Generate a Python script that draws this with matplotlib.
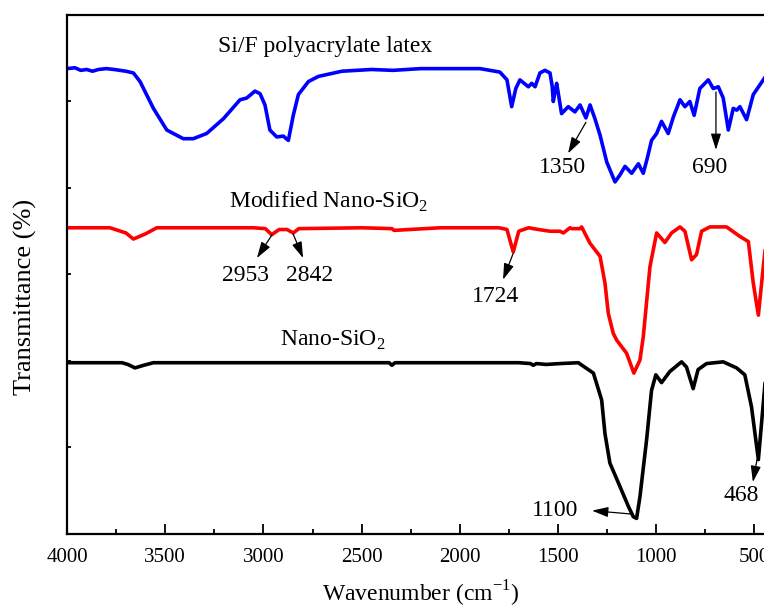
import numpy as np
import matplotlib
matplotlib.use('Agg')
import matplotlib.pyplot as plt

plt.rcParams['font.family'] = ['Liberation Serif', 'DejaVu Serif']
plt.rcParams['mathtext.fontset'] = 'custom'
plt.rcParams['mathtext.rm'] = 'Liberation Serif'

# Si/F polyacrylate latex (blue)
wn_latex = [4000, 3960, 3930, 3900, 3870, 3840, 3800, 3760, 3730, 3700, 3662, 3628, 3560,
            3492, 3408, 3357, 3289, 3204, 3119, 3085, 3043, 3017, 2992, 2967, 2932, 2899,
            2873, 2848, 2822, 2771, 2720, 2600, 2450, 2340, 2200, 2000, 1897, 1796, 1760,
            1736, 1715, 1694, 1651, 1634, 1617, 1592, 1567, 1541, 1530, 1524, 1515, 1507,
            1482, 1448, 1414, 1388, 1358, 1337, 1312, 1286, 1252, 1210, 1185, 1159, 1125,
            1091, 1066, 1045, 1024, 998, 973, 939, 913, 879, 854, 829, 807, 778, 735, 710,
            684, 659, 633, 608, 590, 574, 540, 506, 470, 440]
t_latex = [5.38, 5.39, 5.36, 5.37, 5.35, 5.37, 5.38, 5.37, 5.36, 5.35, 5.33, 5.23, 4.92,
           4.67, 4.57, 4.57, 4.63, 4.80, 5.02, 5.04, 5.12, 5.09, 4.96, 4.67, 4.59, 4.60,
           4.55, 4.84, 5.08, 5.23, 5.29, 5.35, 5.37, 5.36, 5.38, 5.38, 5.38, 5.34, 5.25,
           4.94, 5.15, 5.25, 5.17, 5.21, 5.17, 5.33, 5.36, 5.33, 5.18, 5.00, 5.12, 5.21,
           4.86, 4.94, 4.88, 4.96, 4.81, 4.96, 4.80, 4.61, 4.30, 4.07, 4.15, 4.25, 4.17,
           4.28, 4.17, 4.35, 4.55, 4.63, 4.77, 4.63, 4.82, 5.02, 4.94, 5.00, 4.84, 5.15,
           5.25, 5.15, 5.17, 5.04, 4.67, 4.92, 4.90, 4.94, 4.79, 5.08, 5.20, 5.30]

# Modified Nano-SiO2 (red)
wn_mod = [4000, 3781, 3700, 3662, 3600, 3543, 3300, 3050, 2990, 2958, 2920, 2880, 2848,
          2820, 2500, 2345, 2335, 2100, 1800, 1760, 1728, 1700, 1650, 1600, 1540, 1490,
          1473, 1439, 1431, 1388, 1380, 1337, 1303, 1286, 1261, 1244, 1219, 1201, 1151,
          1114, 1083, 1066, 1032, 998, 956, 922, 879, 854, 820, 795, 769, 727, 642, 574,
          531, 506, 480, 455, 440]
t_mod = [3.54, 3.54, 3.48, 3.41, 3.47, 3.54, 3.54, 3.54, 3.53, 3.46, 3.52, 3.52, 3.48,
         3.53, 3.54, 3.53, 3.51, 3.54, 3.54, 3.52, 3.26, 3.50, 3.54, 3.52, 3.50, 3.50,
         3.48, 3.54, 3.53, 3.53, 3.55, 3.36, 3.26, 3.21, 2.90, 2.55, 2.32, 2.24, 2.09,
         1.86, 2.01, 2.28, 3.09, 3.48, 3.37, 3.48, 3.55, 3.50, 3.17, 3.23, 3.50, 3.55,
         3.55, 3.44, 3.38, 2.90, 2.53, 3.09, 3.40]

# Nano-SiO2 (black)
wn_nano = [4000, 3720, 3690, 3654, 3610, 3560, 3200, 2800, 2360, 2346, 2330, 2000, 1700,
           1640, 1626, 1610, 1560, 1490, 1397, 1320, 1278, 1261, 1236, 1185, 1142, 1117,
           1100, 1083, 1049, 1024, 1002, 973, 930, 871, 846, 812, 787, 744, 659, 591,
           549, 515, 480, 455, 440]
t_nano = [1.98, 1.98, 1.96, 1.92, 1.95, 1.98, 1.98, 1.98, 1.98, 1.95, 1.98, 1.98, 1.98,
          1.97, 1.95, 1.97, 1.96, 1.97, 1.98, 1.86, 1.55, 1.16, 0.82, 0.55, 0.32, 0.20,
          0.18, 0.43, 1.09, 1.66, 1.84, 1.75, 1.88, 1.99, 1.93, 1.68, 1.90, 1.97, 1.99,
          1.92, 1.84, 1.47, 0.86, 1.51, 1.90]

fig = plt.figure(figsize=(7.64, 6.07), dpi=100)
ax = fig.add_axes([0.0877, 0.1203, 0.9255, 0.855])

ax.plot(wn_latex, t_latex, color='#0000ff', lw=2.6)
ax.plot(wn_mod, t_mod, color='#ff0000', lw=2.6)
ax.plot(wn_nano, t_nano, color='black', lw=2.6)

ax.set_xlim(4000, 400)
ax.set_ylim(0, 6)
ax.set_xticks([4000, 3500, 3000, 2500, 2000, 1500, 1000, 500])
ax.set_xticks(np.arange(3750, 400, -500), minor=True)
ax.set_yticks(range(7))
ax.set_yticklabels([])
ax.tick_params(axis='x', which='major', direction='in', length=7, width=1.3, labelsize=15, pad=10)
ax.tick_params(axis='x', which='minor', direction='in', length=3.6, width=1.3)
ax.tick_params(axis='y', direction='in', length=3, width=1.3)
for s in ax.spines.values():
    s.set_linewidth(1.6)

ax.set_xlabel(r'Wavenumber (cm$^{\mathregular{-1}}$)', fontsize=17)
ax.xaxis.set_label_coords(0.5, -0.086)
ax.set_ylabel('Transmittance (%)', fontsize=19, va='center')
ax.yaxis.set_label_coords(-0.059, 0.457)

# curve names
ax.text(2687, 5.63, 'Si/F polyacrylate latex', fontsize=17, ha='center', va='center')
ax.text(2666, 3.84, r'Modified Nano-SiO$_{\mathregular{2}}$', fontsize=17, ha='center', va='center')
ax.text(2646, 2.24, r'Nano-SiO$_{\mathregular{2}}$', fontsize=17, ha='center', va='center')

# peak annotations: (label, arrow tail, arrow head, text position)
arrows = [
    ('2953', (2956, 3.46), (3033, 3.19), (3089, 2.99)),
    ('2842', (2849, 3.47), (2798, 3.19), (2763, 2.99)),
    ('1724', (1729, 3.24), (1780, 2.94), (1816, 2.75)),
    ('1350', (1358, 4.76), (1449, 4.40), (1475, 4.24)),
    ('690', (696, 5.11), (696, 4.44), (726, 4.24)),
    ('1100', (1124, 0.23), (1327, 0.27), (1516, 0.27)),
    ('468', (487, 0.86), (508, 0.60), (569, 0.45)),
]
for lab, tail, head, tpos in arrows:
    ax.annotate('', xy=head, xytext=tail,
                arrowprops=dict(arrowstyle='-|>,head_length=0.7,head_width=0.22',
                                color='black', lw=0.9, mutation_scale=14,
                                shrinkA=0, shrinkB=0))
    ax.text(tpos[0], tpos[1], lab, fontsize=17, ha='center', va='center')

fig.savefig('out.png', dpi=100)
